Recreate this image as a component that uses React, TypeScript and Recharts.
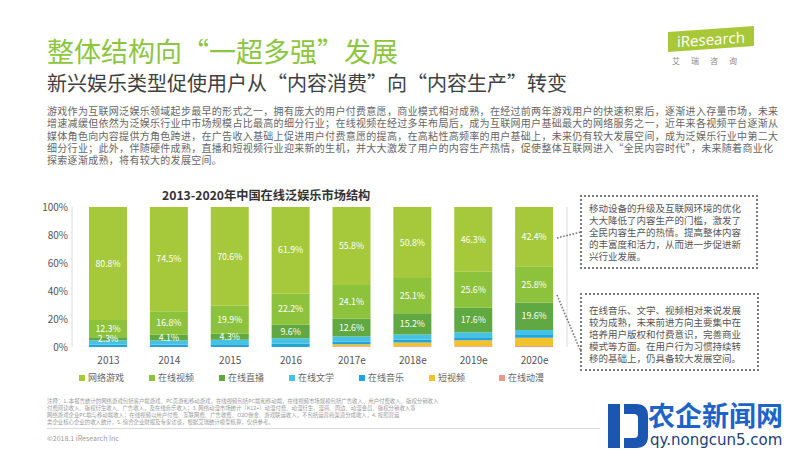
import { BarChart, Bar, XAxis, YAxis, LabelList } from 'recharts';

const years = ['2013', '2014', '2015', '2016', '2017e', '2018e', '2019e', '2020e'];

// shares in % (small bands estimated)
const game = [80.8, 74.5, 70.6, 61.9, 55.8, 50.8, 46.3, 42.4];
const video = [12.3, 16.8, 19.9, 22.2, 24.1, 25.1, 25.6, 25.8];
const live = [2.3, 4.1, 4.3, 9.6, 12.6, 15.2, 17.6, 19.6];
const literature = [2.8, 2.9, 3.2, 3.9, 3.5, 3.6, 3.6, 3.6];
const music = [1.8, 1.7, 2.0, 2.4, 2.0, 2.0, 2.0, 2.0];
const shortVideo = [0, 0, 0, 0, 1.5, 2.8, 4.3, 5.9];
const anime = [0, 0, 0, 0, 0.5, 0.5, 0.6, 0.7];

const yTicks = [0, 20, 40, 60, 80, 100];

// legend order = top of stack first
const series = [
  { key: 'game', name: '网络游戏', color: '#a6c93b', values: game, label: true },
  { key: 'video', name: '在线视频', color: '#8dc23d', values: video, label: true },
  { key: 'live', name: '在线直播', color: '#5fa842', values: live, label: true },
  { key: 'literature', name: '在线文学', color: '#45c3e6', values: literature, label: false },
  { key: 'music', name: '在线音乐', color: '#22a4d9', values: music, label: false },
  { key: 'shortVideo', name: '短视频', color: '#f2c12e', values: shortVideo, label: false },
  { key: 'anime', name: '在线动漫', color: '#e59a8e', values: anime, label: false },
];

const data = years.map((year, i) => {
  const row: any = { year };
  series.forEach(s => { row[s.key] = s.values[i]; });
  return row;
});

const paragraph = [
  '游戏作为互联网泛娱乐领域起步最早的形式之一，拥有庞大的用户付费意愿，商业模式相对成熟，在经过前两年游戏用户的快速积累后，逐渐进入存量市场，未来',
  '增速减缓但依然为泛娱乐行业中市场规模占比最高的细分行业；在线视频在经过多年布局后，成为互联网用户基础最大的网络服务之一，近年来各视频平台逐渐从',
  '媒体角色向内容提供方角色跨进，在广告收入基础上促进用户付费意愿的提高，在高粘性高频率的用户基础上，未来仍有较大发展空间，成为泛娱乐行业中第二大',
  '细分行业；此外，伴随硬件成熟，直播和短视频行业迎来新的生机，并大大激发了用户的内容生产热情，促使整体互联网进入“全民内容时代”，未来随着商业化',
  '探索逐渐成熟，将有较大的发展空间。',
];

const note1 = [
  '移动设备的升级及互联网环境的优化',
  '大大降低了内容生产的门槛，激发了',
  '全民内容生产的热情。提高整体内容',
  '的丰富度和活力，从而进一步促进新',
  '兴行业发展。',
];

const note2 = [
  '在线音乐、文学、视频相对来说发展',
  '较为成熟，未来前进方向主要集中在',
  '培养用户版权和付费意识，完善商业',
  '模式等方面。在用户行为习惯持续转',
  '移的基础上，仍具备较大发展空间。',
];

const footnotes = [
  '注释：1. 本报告统计的网络游戏包括客户端游戏、PC页游和移动游戏，在线视频包括PC端和移动端，在线视频市场规模包括广告收入、用户付费收入、版权分销收入',
  '付费阅读收入、版权衍生收入、广告收入，及在线音乐收入；3. 网络动漫市场统计（K12+）动漫付费、动漫衍生、漫画、周边、动漫会员、版权分销收入等',
  '网络游戏企业PC端与移动端收入；在线视频以用户付费、互联网费、广告收费、O2O佣金、游戏联运收入，不包括运营商渠道分成收入，4. 按照营运',
  '类企业核心企业的收入统计，5. 综合企业财报及专家访谈，根据艾瑞统计模型核算，仅供参考。',
];

const font = "'Noto Sans CJK SC', 'Noto Sans', sans-serif";

const abs = (left: number, top: number, extra: any = {}) => ({ position: 'absolute' as const, left, top, ...extra });

const NoteBox = ({ lines, left, top, width, height, pad }: any) => (
  <div style={abs(left, top, {
    width, height, boxSizing: 'border-box', border: '2px dotted #7a7a7a',
    padding: pad, fontSize: 9.5, lineHeight: '12px', color: '#555', whiteSpace: 'nowrap',
  })}>
    {lines.map((l: string, i: number) => <div key={i}>{l}</div>)}
  </div>
);

export default function App() {
  const stackOrder = [...series].reverse();
  return (
    <div style={abs(0, 0, { width: 800, height: 450, overflow: 'hidden', background: '#fff', fontFamily: font })}>
      {/* header */}
      <div style={abs(47, 35, { fontSize: 27, color: '#8cc63f', whiteSpace: 'nowrap', lineHeight: '32px' })}>
        整体结构向“一超多强”发展
      </div>
      <div style={abs(47, 71, { fontSize: 20, color: '#404040', whiteSpace: 'nowrap', lineHeight: '24px' })}>
        新兴娱乐类型促使用户从“内容消费”向“内容生产”转变
      </div>

      {/* iResearch logo */}
      <div style={abs(668, 29, { width: 86, height: 20, background: '#a8c83a', transform: 'skewY(-4deg)', color: '#fff', fontSize: 15, lineHeight: '20px', textAlign: 'center', fontFamily: "'Open Sans', sans-serif" })}>
        iResearch
      </div>
      <div style={abs(672, 55, { fontSize: 8, color: '#8a8a8a', letterSpacing: 11, whiteSpace: 'nowrap' })}>艾瑞咨询</div>

      {/* body text */}
      <div style={abs(47, 105, { fontSize: 10, lineHeight: '12.3px', color: '#666', whiteSpace: 'nowrap', letterSpacing: 0.3 })}>
        {paragraph.map((l, i) => <div key={i}>{l}</div>)}
      </div>

      {/* chart title */}
      <div style={abs(162, 188, { fontSize: 12.2, fontWeight: 700, color: '#333', whiteSpace: 'nowrap', lineHeight: '15px' })}>
        2013-2020年中国在线泛娱乐市场结构
      </div>

      <div style={abs(0, 0)}>
        <BarChart width={600} height={400} data={data} margin={{ top: 207, right: 32, bottom: 33, left: 32 }} barSize={38}>
          <XAxis dataKey="year" axisLine={false} tickLine={false} tickSize={8} tickMargin={2} padding={{ left: 6, right: 2 }}
            tick={{ fill: '#555', fontSize: 10, fontFamily: font }} interval={0} height={20} />
          <YAxis domain={[0, 100]} ticks={yTicks} tickFormatter={v => `${v}%`} width={40}
            axisLine={{ stroke: '#dcdcdc' }} tickLine={false} tickSize={3} tickMargin={1}
            tick={{ fill: '#555', fontSize: 10, fontFamily: font }} />
          <YAxis yAxisId="right" orientation="right" domain={[0, 100]} width={1} tick={false} tickLine={false}
            axisLine={{ stroke: '#dcdcdc' }} />
          {stackOrder.map(s => (
            <Bar key={s.key} dataKey={s.key} name={s.name} stackId="a" fill={s.color} isAnimationActive={false}>
              {s.label && (
                <LabelList dataKey={s.key} position="center" formatter={(v: any) => `${v}%`}
                  style={{ fill: '#fff', fontSize: 8.8, fontFamily: font }} />
              )}
            </Bar>
          ))}
        </BarChart>
      </div>

      {/* legend */}
      <div style={abs(79, 372, { display: 'flex', fontSize: 9, color: '#666', lineHeight: '12px' })}>
        {series.map(s => (
          <div key={s.key} style={{ width: 70, display: 'flex', alignItems: 'center', whiteSpace: 'nowrap' }}>
            <span style={{ width: 6, height: 6, background: s.color, marginRight: 3, display: 'inline-block' }} />
            {s.name}
          </div>
        ))}
      </div>

      {/* annotations */}
      <svg width={800} height={450} style={abs(0, 0, { pointerEvents: 'none' })}>
        <line x1={557} y1={238} x2={581} y2={232} stroke="#777" strokeWidth={1.6} strokeDasharray="1.6 1.6" />
        <line x1={557} y1={295} x2={581} y2={352} stroke="#777" strokeWidth={1.6} strokeDasharray="1.6 1.6" />
      </svg>
      <NoteBox lines={note1} left={580} top={195} width={178} height={74} pad="5px 0 0 7px" />
      <NoteBox lines={note2} left={580} top={293} width={179} height={78} pad="9px 0 0 7px" />

      {/* footnotes */}
      <div style={abs(47, 398, { width: 553, fontSize: 5.4, lineHeight: '7px', color: '#9a9a9a', whiteSpace: 'nowrap' })}>
        {footnotes.map((l, i) => <div key={i}>{l}</div>)}
      </div>
      <div style={abs(47, 428, { width: 553, height: 1, background: '#d8d8d8' })} />
      <div style={abs(47, 433, { fontSize: 7, color: '#999', whiteSpace: 'nowrap' })}>©2018.1 iResearch Inc</div>

      {/* watermark */}
      <svg width={44} height={48} style={abs(606, 402)}>
        <path d="M2 2 H14 V46 H2 Z" fill="#1b56b0" />
        <path d="M18 2 H30 Q42 2 42 14 V34 Q42 46 30 46 H18 V36 H28 Q32 36 32 32 V16 Q32 12 28 12 H18 Z" fill="#1b56b0" />
      </svg>
      <div style={abs(648, 400, { fontSize: 27, fontWeight: 700, color: '#1e64c8', whiteSpace: 'nowrap', lineHeight: '29px' })}>农企新闻网</div>
      <div style={abs(650, 432, { fontSize: 15, color: '#1c3f7a', whiteSpace: 'nowrap', lineHeight: '17px', fontFamily: "'DejaVu Sans', sans-serif" })}>qy.nongcun5.com</div>
    </div>
  );
}
